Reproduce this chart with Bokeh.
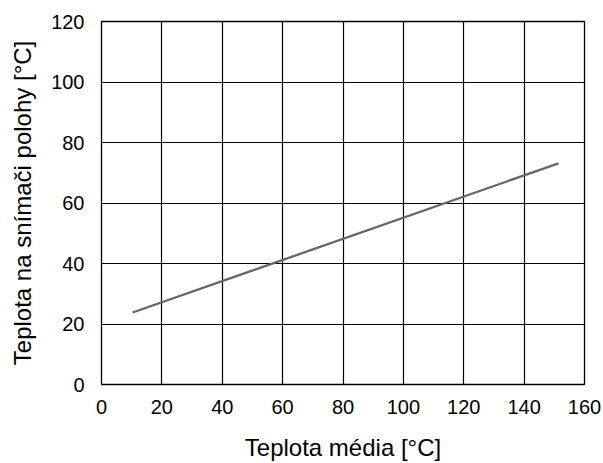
from bokeh.plotting import figure
from bokeh.models import Range1d, FixedTicker
from bokeh.embed import file_html
from bokeh.resources import INLINE

# Data
media_temp = [10.3, 151.4]
sensor_temp = [23.8, 73.1]
x_ticks = [0, 20, 40, 60, 80, 100, 120, 140, 160]
y_ticks = [0, 20, 40, 60, 80, 100, 120]
x_title = "Teplota média [°C]"
y_title = "Teplota na snímači polohy [°C]"

p = figure(width=603, height=463, output_backend="svg", toolbar_location=None,
           x_range=Range1d(0, 160), y_range=Range1d(0, 120),
           min_border_left=101, min_border_right=19,
           min_border_top=21, min_border_bottom=79)

p.line(media_temp, sensor_temp, line_color="#666666", line_width=2.3)

p.xaxis.ticker = FixedTicker(ticks=x_ticks)
p.yaxis.ticker = FixedTicker(ticks=y_ticks)

p.grid.grid_line_color = "black"
p.grid.grid_line_width = 1.2
p.outline_line_color = "black"
p.outline_line_width = 1.3
p.background_fill_color = "white"
p.border_fill_color = "white"

p.axis.axis_line_color = None
p.axis.major_tick_line_color = None
p.axis.minor_tick_line_color = None
p.axis.major_label_text_font = "Liberation Sans"
p.axis.major_label_text_font_size = "20px"
p.axis.major_label_text_color = "black"
p.xaxis.major_label_standoff = 9
p.yaxis.major_label_standoff = 11

p.xaxis.axis_label = x_title
p.yaxis.axis_label = y_title
p.axis.axis_label_text_font = "Liberation Sans"
p.axis.axis_label_text_font_style = "normal"
p.axis.axis_label_text_font_size = "24px"
p.axis.axis_label_text_color = "black"
p.xaxis.axis_label_standoff = 17
p.yaxis.axis_label_standoff = 12

open("out.html", "w").write(file_html(p, INLINE))
